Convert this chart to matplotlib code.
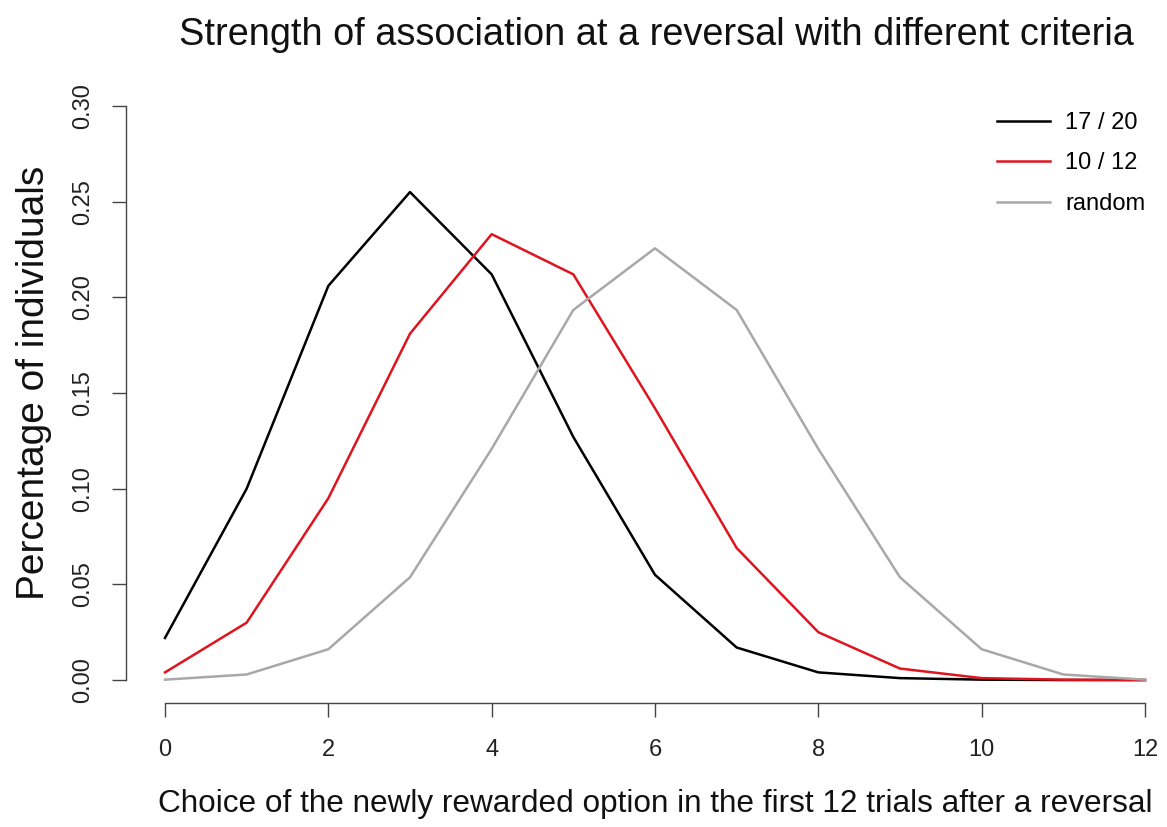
import matplotlib.pyplot as plt

plt.rcParams["font.family"] = ["Liberation Sans", "DejaVu Sans"]

# choices of the newly rewarded option (0..12 out of 12 trials)
choices = list(range(13))

crit_17_20 = [0.022, 0.100, 0.206, 0.255, 0.212, 0.127, 0.055, 0.017, 0.004,
              0.001, 0.0002, 0.0, 0.0]
crit_10_12 = [0.004, 0.030, 0.095, 0.181, 0.233, 0.212, 0.142, 0.069, 0.025,
              0.006, 0.001, 0.0002, 0.0]
random_choice = [0.0002, 0.0029, 0.0161, 0.0537, 0.1208, 0.1934, 0.2256,
                 0.1934, 0.1208, 0.0537, 0.0161, 0.0029, 0.0002]

x_ticks = [0, 2, 4, 6, 8, 10, 12]
y_ticks = [0.00, 0.05, 0.10, 0.15, 0.20, 0.25, 0.30]

W, H = 1167, 827
fig = plt.figure(figsize=(W / 100, H / 100), dpi=100)
ax = fig.add_axes([125.8 / W, (H - 703) / H, 1040.4 / W, 620 / H])

ax.plot(choices, crit_17_20, color="black", lw=1.8, label="17 / 20")
ax.plot(choices, crit_10_12, color="#e0141e", lw=1.8, label="10 / 12")
ax.plot(choices, random_choice, color="#a8a8a8", lw=1.8, label="random")

ax.set_xlim(-0.48, 12.26)
ax.set_ylim(-0.012, 0.312)

# R-style axes: detached lines that span only the tick range
for side in ("top", "right"):
    ax.spines[side].set_visible(False)
ax.spines["left"].set_bounds(0, 0.30)
ax.spines["bottom"].set_bounds(0, 12)
for side in ("left", "bottom"):
    ax.spines[side].set_color("#444444")
    ax.spines[side].set_linewidth(1.0)

ax.set_xticks(x_ticks)
ax.set_xticklabels([str(t) for t in x_ticks])
ax.set_yticks(y_ticks)
ax.set_yticklabels([f"{t:.2f}" for t in y_ticks], rotation=90, va="center")
ax.tick_params(length=10, width=1.0, color="#444444", labelsize=17,
               labelcolor="#222222")
ax.tick_params(axis="x", pad=16)
ax.tick_params(axis="y", pad=13)

fig.text(656 / W, 1 - 35 / H,
         "Strength of association at a reversal with different criteria",
         ha="center", va="center", fontsize=27.3, color="#111111")
fig.text(655 / W, 1 - 804 / H,
         "Choice of the newly rewarded option in the first 12 trials after a reversal",
         ha="center", va="center", fontsize=22.7, color="#111111")
fig.text(34 / W, 1 - 383 / H, "Percentage of individuals",
         ha="center", va="center", rotation=90, fontsize=28, color="#111111")

ax.legend(loc="upper left", bbox_to_anchor=(997 / W, 1 - 112 / H),
          bbox_transform=fig.transFigure, frameon=False, fontsize=17,
          handlelength=2.25, handletextpad=0.64, labelspacing=0.78,
          borderpad=0, borderaxespad=0)

fig.savefig("out.png", dpi=100)
